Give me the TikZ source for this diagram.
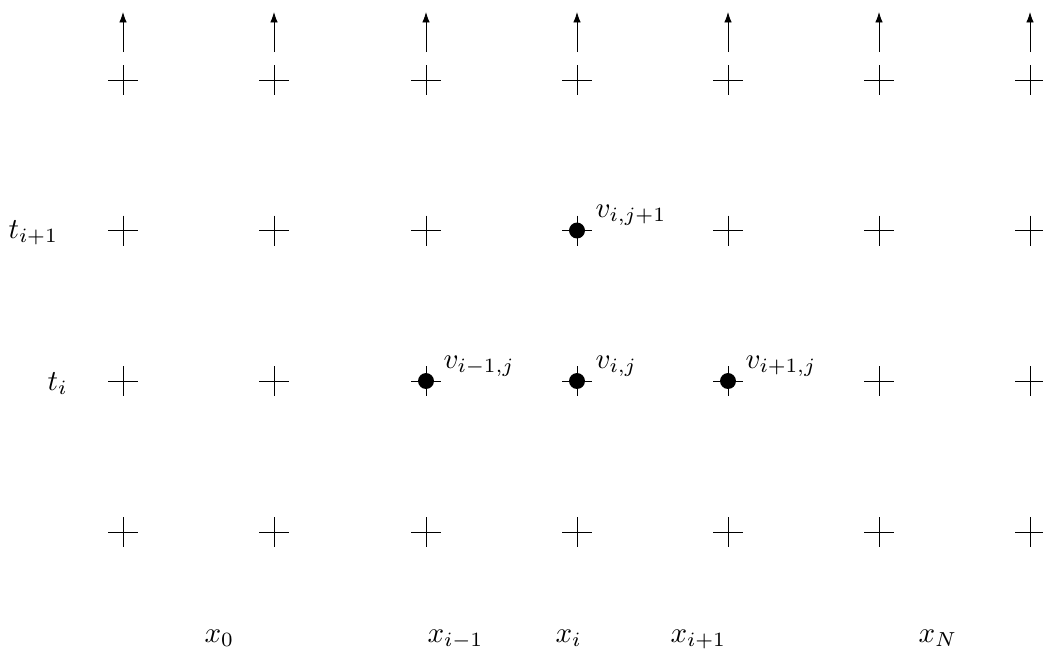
\documentclass[tikz,border=0pt]{standalone}
\usetikzlibrary{arrows.meta}
\begin{document}
\begin{tikzpicture}[x=0.345pt,y=-0.345pt,
  crossmark/.style={line width=0.3pt},
  gridpt/.style={circle,fill=black,inner sep=0pt,minimum size=5.5pt},
  lbl/.style={anchor=base west,inner sep=0pt},
  uparrow/.style={-{Latex[length=3.6pt,width=2.6pt]},line width=0.3pt}]
\useasboundingbox (0,0) rectangle (1043,651);
\foreach \c [count=\k from 0] in {123,274,426,577,728,879,1030} {
  \foreach \r [count=\m from 0] in {80,230.5,381,532} {
    \coordinate (p\k\m) at (\c,\r);
    \draw[crossmark] (\c-15,\r) -- (\c+15,\r) (\c,\r-15) -- (\c,\r+15);
  }
  \coordinate (a\k) at (\c,52);
  \coordinate (b\k) at (\c,12);
  \draw[uparrow] (a\k) -- (b\k);
}
\node[gridpt] (d1) at (p22) {};
\node[gridpt] (d2) at (p32) {};
\node[gridpt] (d3) at (p42) {};
\node[gridpt] (d4) at (p31) {};
\node[lbl] (lv4) at (595,217) {$v_{i,j+1}$};
\node[lbl] (lv1) at (443,368) {$v_{i-1,j}$};
\node[lbl] (lv2) at (595,368) {$v_{i,j}$};
\node[lbl] (lv3) at (745,368) {$v_{i+1,j}$};
\node[lbl] (lt1) at (8,238) {$t_{i+1}$};
\node[lbl] (lt0) at (47,390) {$t_i$};
\node[lbl] (lx0) at (204,642) {$x_0$};
\node[lbl] (lx1) at (427,642) {$x_{i-1}$};
\node[lbl] (lx2) at (555,642) {$x_i$};
\node[lbl] (lx3) at (670,642) {$x_{i+1}$};
\node[lbl] (lx4) at (918,642) {$x_N$};
\end{tikzpicture}
\end{document}
